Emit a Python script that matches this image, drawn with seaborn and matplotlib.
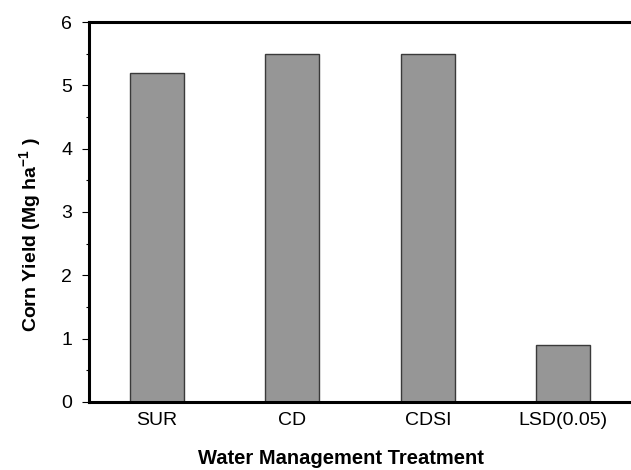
import matplotlib
matplotlib.use("Agg")
import matplotlib.pyplot as plt
from matplotlib.ticker import MultipleLocator
import seaborn as sns
import pandas as pd

categories = ["SUR", "CD", "CDSI", "LSD(0.05)"]
yields = [5.2, 5.5, 5.5, 0.9]

sns.set_theme(style="white")
plt.rcParams['font.family'] = ['Liberation Sans', 'DejaVu Sans']
plt.rcParams['mathtext.fontset'] = 'custom'
plt.rcParams['mathtext.rm'] = 'Liberation Sans'
plt.rcParams['mathtext.bf'] = 'Liberation Sans:bold'
plt.rcParams['text.color'] = 'black'
plt.rcParams['axes.labelcolor'] = 'black'
plt.rcParams['xtick.color'] = 'black'
plt.rcParams['ytick.color'] = 'black'

df = pd.DataFrame({"cat": categories, "val": yields})

fig = plt.figure(figsize=(6.31, 4.70), dpi=100)
ax = fig.add_axes([89/631, 68/470, 1 - 89/631, (402-22)/470])

sns.barplot(data=df, x="cat", y="val", ax=ax, color="#969696", width=0.4,
            edgecolor="#3a3a3a", linewidth=1.0, saturation=1)

ax.set_xlim(-0.5, 3.5)
ax.set_ylim(0, 6)
ax.yaxis.set_major_locator(MultipleLocator(1))
ax.yaxis.set_minor_locator(MultipleLocator(0.5))

for s in ["left", "bottom", "top"]:
    ax.spines[s].set_linewidth(2.2)
    ax.spines[s].set_color("black")
ax.spines["right"].set_visible(False)

ax.tick_params(axis="y", which="major", direction="out", length=5.2, width=0.8,
               labelsize=14, pad=7, left=True, labelcolor="black")
ax.tick_params(axis="y", which="minor", direction="out", length=2.5, width=0.8,
               left=True)
ax.tick_params(axis="x", which="both", length=0, labelsize=14, pad=7,
               labelcolor="black")

ax.set_xlabel("Water Management Treatment", fontsize=14.5, fontweight="bold")
ax.xaxis.set_label_coords(0.465, -0.125)
ax.set_ylabel("Corn Yield (Mg ha$^{\\mathbf{-1}}$ )", fontsize=14, fontweight="bold")
ax.yaxis.set_label_coords(-0.083, 0.44)

fig.savefig("out.png", dpi=100)
